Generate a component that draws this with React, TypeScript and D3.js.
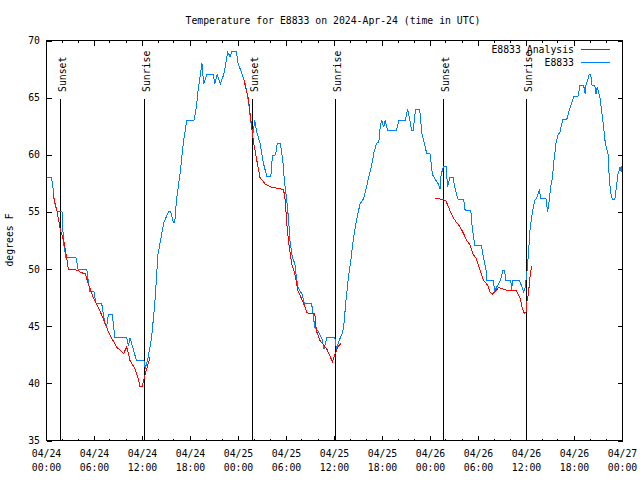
import React from "react";
import * as d3 from "d3";

const title = "Temperature for E8833 on 2024-Apr-24 (time in UTC)";
const yLabel = "degrees F";
const yTicks = [35, 40, 45, 50, 55, 60, 65, 70];
const startUtc = Date.UTC(2024, 3, 24, 0, 0);
const endUtc = Date.UTC(2024, 3, 27, 0, 0);

// hours since 04/24 00:00 UTC
const stationHours = [
  0.0, 0.7, 0.9, 1.0, 1.2, 1.4, 2.0, 2.2, 2.5, 3.75, 4.0, 5.1, 5.3, 5.5, 6.0, 6.25, 6.96, 7.4, 7.6, 7.8,
  8.3, 8.6, 10.1, 10.3, 10.5, 10.9, 11.3, 12.25, 12.4, 12.6, 12.8, 13.2, 13.6, 14.0, 14.7, 15.3, 15.6, 15.9, 16.1, 16.3,
  16.75, 17.2, 17.6, 18.5, 18.8, 19.0, 19.5, 19.7, 20.1, 20.9, 21.1, 21.4, 21.8, 22.2, 22.4, 22.7, 23.0, 23.2, 23.8, 24.0,
  24.5, 24.9, 25.3, 25.7, 25.9, 26.1, 26.3, 26.75, 27.2, 27.6, 28.1, 28.3, 28.7, 28.9, 29.3, 29.6, 29.8, 30.1, 30.3, 30.5,
  30.8, 31.1, 31.3, 31.5, 32.0, 32.3, 33.2, 33.6, 34.0, 34.5, 34.75, 35.1, 36.1, 36.3, 36.6, 37.0, 37.2, 37.5, 37.8, 38.1,
  38.4, 38.8, 39.25, 39.7, 40.0, 40.4, 40.7, 41.0, 41.3, 41.6, 41.8, 42.0, 42.2, 42.4, 42.7, 43.8, 44.1, 44.9, 45.2, 45.5,
  45.7, 45.9, 46.1, 46.2, 46.7, 47.0, 47.25, 47.6, 48.0, 48.3, 48.6, 49.0, 49.25, 49.4, 49.7, 50.0, 50.2, 50.5, 50.9, 51.0,
  51.3, 51.5, 52.2, 52.4, 53.1, 53.3, 53.6, 54.4, 54.7, 55.0, 55.1, 55.9, 56.1, 56.4, 56.8, 57.1, 57.3, 57.5, 58.1, 58.2,
  58.3, 59.2, 59.7, 59.9, 60.1, 60.3, 60.5, 60.7, 60.9, 61.1, 61.3, 61.5, 61.7, 61.8, 62.5, 62.7, 62.9, 63.1, 63.3, 63.5,
  63.75, 64.0, 64.25, 64.6, 65.1, 65.4, 65.7, 66.0, 66.5, 66.75, 67.2, 67.4, 67.5, 67.9, 68.1, 68.25, 68.6, 68.75, 68.9, 69.25,
  69.5, 69.7, 69.9, 70.3, 70.4, 70.6, 70.8, 71.1, 71.3, 71.5, 71.75, 71.9, 72.0,
];
const stationTemps = [
  58, 58, 57, 56.1, 55.5, 55, 55, 52.2, 51, 51, 50, 50, 48.85, 48, 48, 47, 47, 45.06, 45.1, 46,
  46, 44, 44, 43.3, 44, 43, 42, 42, 41.3, 41.8, 42.4, 44.0, 47, 51.3, 54.0, 55.0, 55.0, 54.1, 54.1, 56.0,
  58.3, 61.25, 63.0, 63.0, 64.2, 65.6, 68, 66.2, 67, 67, 66.2, 67, 66.2, 67, 67.7, 69, 68.6, 69, 69, 68,
  67.1, 66.2, 64.75, 62.3, 62.0, 63, 62.1, 61, 59.2, 58.1, 58.1, 59.9, 60.0, 61, 61, 59.5, 57.75, 56, 54.5, 52.5,
  51.0, 50.5, 49.3, 48.4, 47.8, 47.0, 47.0, 44.9, 44.6, 43.9, 43.0, 44.0, 44.0, 43.0, 43.7, 44.3, 44.9, 47.25, 49.3, 50.75,
  52.5, 54.25, 55.7, 56.15, 57.0, 58.2, 59.1, 60.2, 61.0, 61.1, 62.6, 63.0, 62.4, 63, 62.1, 62.1, 63.0, 63.0, 64.0, 63,
  62.1, 62.1, 63.4, 64.0, 64.0, 61.8, 61.1, 60.1, 60.1, 58.3, 57.9, 57.5, 57.0, 58.3, 59.0, 59.0, 57.2, 58.05, 58.05, 57.5,
  56.6, 56.1, 56.1, 55.1, 55.1, 53.5, 52.1, 52.1, 51.0, 49.9, 49.0, 49.0, 48.1, 48.5, 49.0, 49.9, 49.9, 49.0, 49.0, 48.1,
  49.0, 49.0, 48.0, 48.4, 49.6, 51.3, 53.4, 54.5, 55.4, 56.0, 56.15, 56.6, 57.0, 56.15, 56.15, 55.0, 56.0, 57.3, 58.0, 59.5,
  61.0, 61.7, 62.0, 63.1, 63.1, 63.9, 64.5, 65.1, 65.1, 66.1, 66.1, 65.3, 66.1, 67.0, 67.0, 66.1, 66.1, 65.3, 65.9, 65.0,
  63.6, 62.4, 61.1, 59.9, 58.0, 56.6, 56.1, 56.1, 57.2, 58.3, 58.9, 58.5, 59.0,
];

// analysis series; NaN marks a gap
const analysisHours = [
  0.9, 1.1, 1.4, 1.8, 2.25, 2.6, 2.8, 4.0, 4.3, 4.9, 5.3, 5.9, 6.5, 7.2, 7.8, 8.8, 9.7, 10.1, 10.5, 11.1,
  11.5, 11.75, 12.0, 12.4, 13.0, NaN,
  24.75, 25.3, 25.6, 25.9, 26.3, 26.75, 27.4, 28.0, 29.7, 29.9, 30.1, 30.3, 30.7, 31.1, 31.5, 32.2, 32.6, 33.0, 33.6, 33.8,
  34.25, 35.1, 35.8, 36.1, 36.5, 36.9, NaN,
  48.6, 49.6, 50.0, 50.5, 50.9, 51.3, 51.75, 52.2, 52.6, 53.0, 53.4, 53.8, 54.25, 54.7, 55.2, 55.5, 55.8, 56.1, 56.6, 57.3,
  58.1, 58.8, 59.25, 59.5, 59.8, 60.0, 60.1, 60.3, 60.5, 60.7,
];
const analysisTemps = [
  56.6, 55.8, 55.0, 53.4, 52.4, 50.9, 50.0, 49.9, 49.7, 49.6, 48.7, 47.5, 46.7, 45.6, 44.5, 43.2, 42.6, 43.2, 42.0, 41.3,
  40.5, 39.7, 39.7, 40.8, 42.3, NaN,
  66.5, 64.9, 63.1, 61.3, 59.7, 58.0, 57.45, 57.2, 56.95, 56.0, 54.0, 52.5, 50.5, 49.6, 48.1, 47.0, 46.2, 46.1, 46.1, 44.6,
  43.75, 43.0, 41.9, 42.5, 43.2, 43.5, NaN,
  56.2, 56.1, 55.95, 55.1, 54.5, 54.1, 53.7, 53.1, 52.5, 52.1, 51.3, 50.9, 49.9, 49.0, 48.6, 48.0, 47.8, 48.0, 48.4, 48.2,
  48.1, 48.1, 47.5, 46.7, 46.1, 46.2, 47.1, 47.8, 49.3, 50.3,
];

const sunLabels = ["Sunset", "Sunrise", "Sunset", "Sunrise", "Sunset", "Sunrise"];
const sunHours = [1.79, 12.29, 25.83, 36.2, 49.67, 60.04];

const legendNames = ["E8833 Analysis", "E8833"];
const colors = ["#ff0000", "#0080ff"];

const FONT = "'DejaVu Sans Mono', 'Liberation Mono', monospace";
const FS = 9.8;

export default function App() {
  const left = 46.5, right = 622.5, top = 40.5, bottom = 440.5;
  const x = d3.scaleUtc().domain([new Date(startUtc), new Date(endUtc)]).range([left, right]);
  const y = d3.scaleLinear().domain([35, 70]).range([bottom, top]);
  const hx = (h: number) => x(new Date(startUtc + h * 3600e3));
  const snap = (v: number) => Math.floor(v - 0.5) + 0.5;

  const line = d3
    .line<[number, number]>()
    .defined((d) => !isNaN(d[0]) && !isNaN(d[1]))
    .x((d) => hx(d[0]) - 0.5)
    .y((d) => y(d[1]));

  const station: [number, number][] = stationHours.map((h, i) => [h, stationTemps[i]]);
  const analysis: [number, number][] = analysisHours.map((h, i) => [h, analysisTemps[i]]);

  const majors = d3.utcHour.every(6)!.range(new Date(startUtc), new Date(endUtc + 1));
  const minors = d3.utcHour.every(2)!.range(new Date(startUtc), new Date(endUtc + 1));
  const fDate = d3.utcFormat("%m/%d");
  const fTime = d3.utcFormat("%H:%M");

  const markTop = 99;
  const textStyle = { fontFamily: FONT, fontSize: FS, fill: "#000" } as const;

  return (
    <svg
      width={640}
      height={480}
      style={{ position: "absolute", left: 0, top: 0, background: "#fff" }}
      shapeRendering="crispEdges"
    >
      <rect x={0} y={0} width={640} height={480} fill="#fff" />
      <text x={333} y={24} textAnchor="middle" style={textStyle}>{title}</text>
      <text transform={`translate(13,240) rotate(-90)`} textAnchor="middle" style={textStyle}>{yLabel}</text>

      {/* y ticks */}
      {yTicks.map((t) => (
        <g key={"y" + t}>
          <line x1={left} x2={left + 5} y1={Math.round(y(t)) + 0.5} y2={Math.round(y(t)) + 0.5} stroke="#000" />
          <line x1={right - 5} x2={right} y1={Math.round(y(t)) + 0.5} y2={Math.round(y(t)) + 0.5} stroke="#000" />
          <text x={40} y={y(t) + 3.5} textAnchor="end" style={textStyle}>{t}</text>
        </g>
      ))}

      {/* x ticks */}
      {minors.map((d, i) => (
        <g key={"m" + i}>
          <line x1={snap(x(d))} x2={snap(x(d))} y1={bottom} y2={bottom - 2} stroke="#000" />
          <line x1={snap(x(d))} x2={snap(x(d))} y1={top} y2={top + 2} stroke="#000" />
        </g>
      ))}
      {majors.map((d, i) => (
        <g key={"M" + i}>
          <line x1={snap(x(d))} x2={snap(x(d))} y1={bottom} y2={bottom - 5} stroke="#000" />
          <line x1={snap(x(d))} x2={snap(x(d))} y1={top} y2={top + 5} stroke="#000" />
          <text x={x(d)} y={456.5} textAnchor="middle" style={textStyle}>{fDate(d)}</text>
          <text x={x(d)} y={471} textAnchor="middle" style={textStyle}>{fTime(d)}</text>
        </g>
      ))}

      {/* sunrise / sunset markers */}
      {sunHours.map((h, i) => {
        const sx = snap(hx(h));
        return (
          <g key={"s" + i}>
            <line x1={sx} x2={sx} y1={bottom} y2={markTop} stroke="#000" />
            <text transform={`translate(${sx + 5.5},92) rotate(-90)`} textAnchor="start" style={textStyle}>
              {sunLabels[i]}
            </text>
          </g>
        );
      })}

      {/* data */}
      <path d={line(station) || ""} fill="none" stroke={colors[1]} strokeWidth={1} />
      <path d={line(analysis) || ""} fill="none" stroke={colors[0]} strokeWidth={1} />

      {/* legend */}
      {legendNames.map((n, i) => (
        <g key={"l" + i}>
          <text x={574} y={52.5 + i * 13} textAnchor="end" style={textStyle}>{n}</text>
          <line x1={581} x2={610} y1={49.5 + i * 13} y2={49.5 + i * 13} stroke={colors[i]} />
        </g>
      ))}

      {/* frame */}
      <rect x={left} y={top} width={right - left} height={bottom - top} fill="none" stroke="#000" />
    </svg>
  );
}
